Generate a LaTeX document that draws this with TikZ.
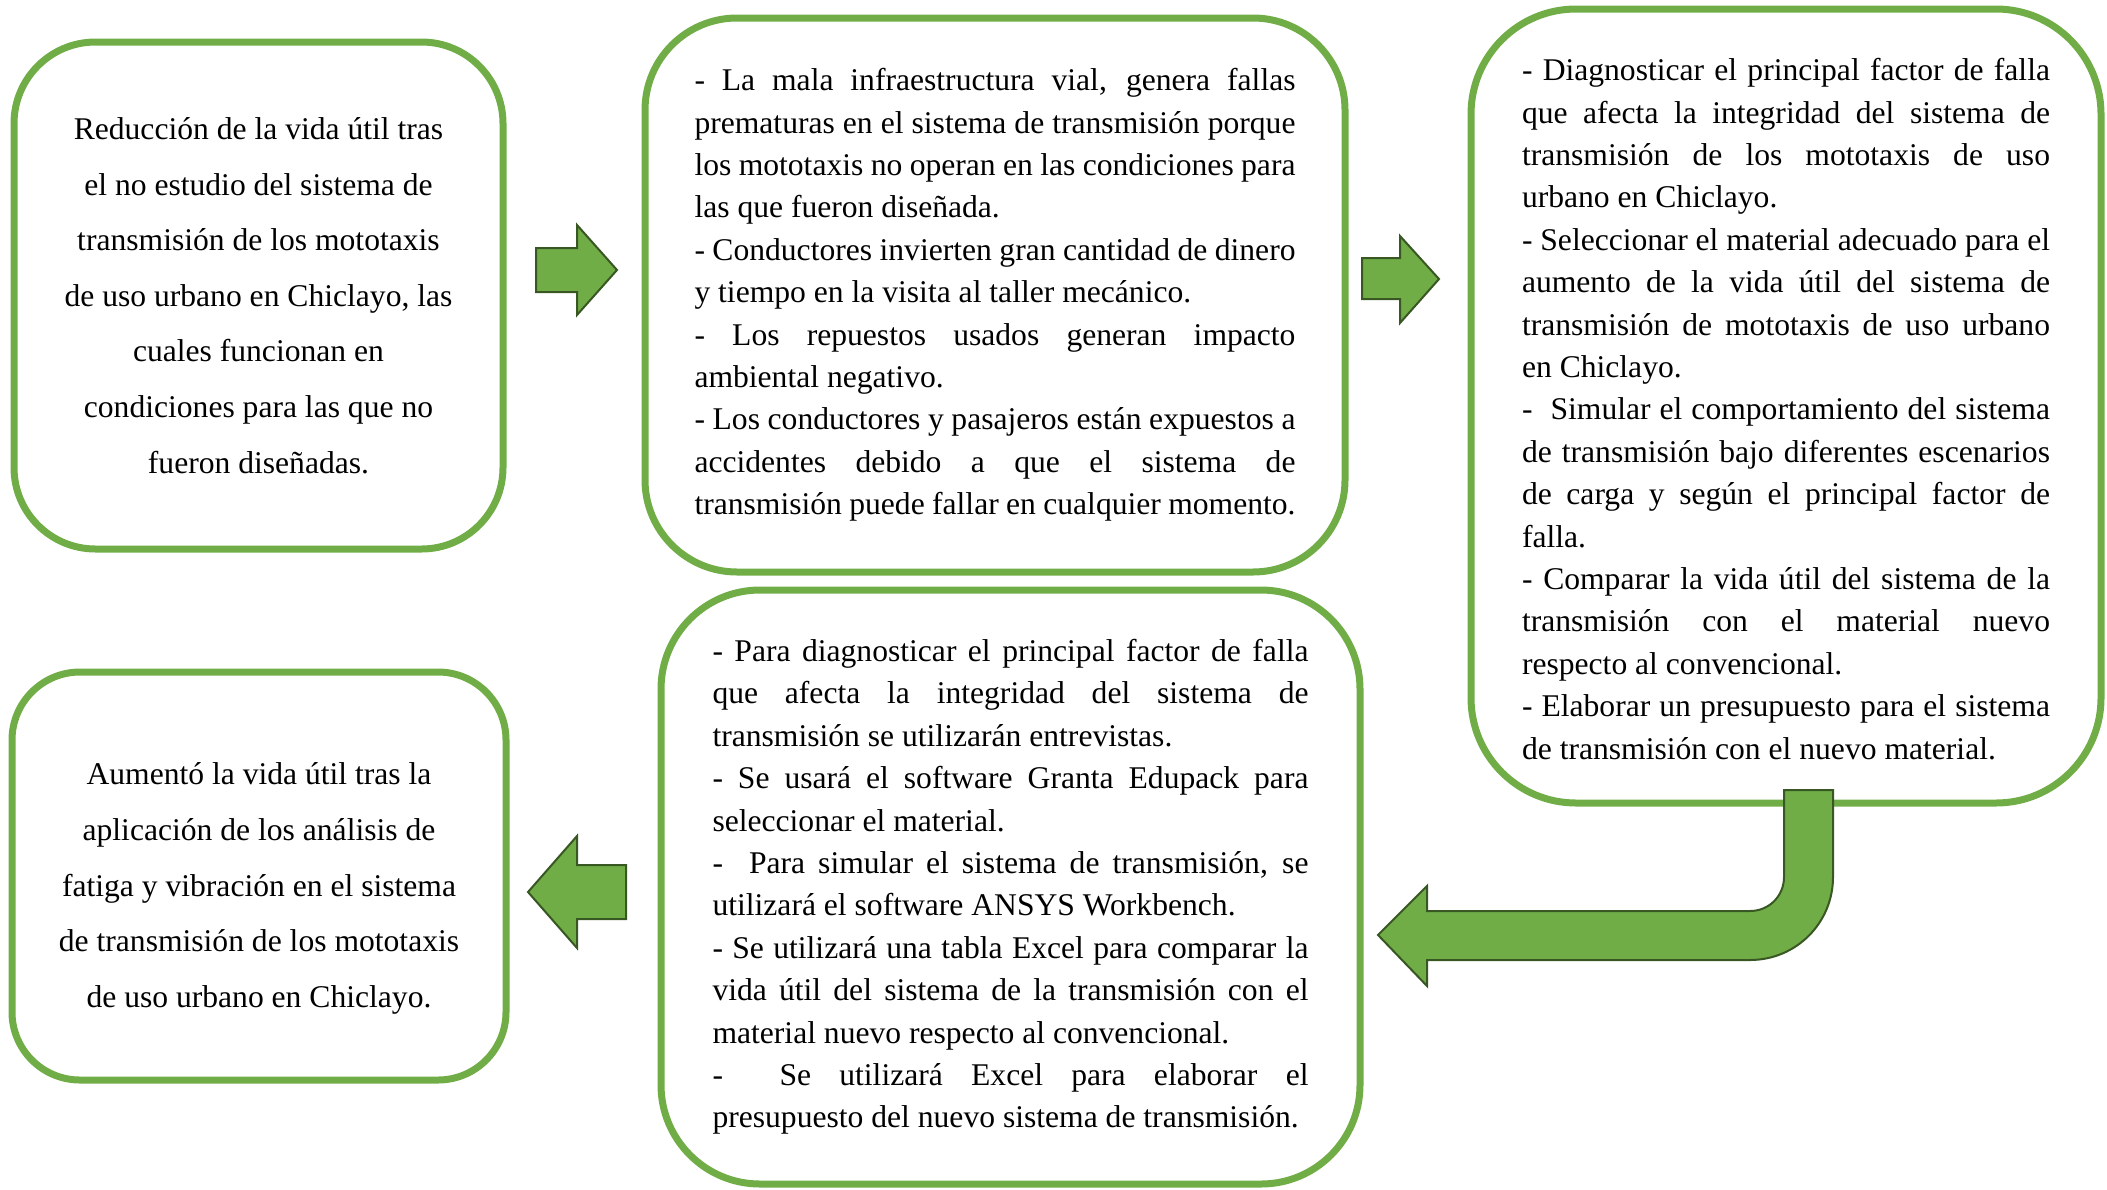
\documentclass[tikz,border=0pt]{standalone}
\usepackage{fontspec}
\setmainfont{Liberation Serif}
\hyphenpenalty=10000
\exhyphenpenalty=10000
\tolerance=10000
\definecolor{boxColor}{HTML}{70AD47}
\definecolor{edgeColor}{HTML}{385723}
\tikzset{box/.style={draw=boxColor, line width=3.5pt, inner sep=0pt}}
\tikzset{bigtext/.style={align=center, font=\fontsize{15.8}{27.8}\selectfont}}
\tikzset{listtext/.style={align=justify, font=\fontsize{15.8}{21.2}\selectfont}}
\tikzset{blockarrow/.style={fill=boxColor, draw=edgeColor, line width=1pt, line join=miter}}
\begin{document}
\begin{tikzpicture}[x=0.5pt, y=-0.5pt]
\useasboundingbox (0,0) rectangle (2107,1189);
\node[box, bigtext, rounded corners=40.75pt, minimum width=244.5pt, minimum height=253.5pt] (problem) at (258.5,295.5) {Reducción de la vida útil tras\\ el no estudio del sistema de\\ transmisión de los mototaxis\\ de uso urbano en Chiclayo, las\\ cuales funcionan en\\ condiciones para las que no\\ fueron diseñadas.};
\node[box, listtext, text width=300.5pt, rounded corners=46pt, minimum width=350pt, minimum height=277pt] (causes) at (995,295) {- La mala infraestructura vial, genera fallas \linebreak prematuras en el sistema de transmisión porque \linebreak los mototaxis no operan en las condiciones para \linebreak las que fueron diseñada.\par - Conductores invierten gran cantidad de dinero \linebreak y tiempo en la visita al taller mecánico.\par - Los repuestos usados generan impacto \linebreak ambiental negativo.\par - Los conductores y pasajeros están expuestos a \linebreak accidentes debido a que el sistema de \linebreak transmisión puede fallar en cualquier momento.};
\node[box, listtext, text width=264pt, rounded corners=52.5pt, minimum width=315pt, minimum height=397pt] (goals) at (1786,406) {\rule{0pt}{14.2pt}- Diagnosticar el principal factor de falla \linebreak que afecta la integridad del sistema de \linebreak transmisión de los mototaxis de uso \linebreak urbano en Chiclayo.\par - Seleccionar el material adecuado para el \linebreak aumento de la vida útil del sistema de \linebreak transmisión de mototaxis de uso urbano \linebreak en Chiclayo.\par -\ \ Simular el comportamiento del sistema \linebreak de transmisión bajo diferentes escenarios \linebreak de carga y según el principal factor de \linebreak falla.\par - Comparar la vida útil del sistema de la \linebreak transmisión con el material nuevo \linebreak respecto al convencional.\par - Elaborar un presupuesto para el sistema \linebreak de transmisión con el nuevo material.};
\node[box, listtext, text width=298pt, rounded corners=49.5pt, minimum width=349.5pt, minimum height=297pt] (methods) at (1010.5,887) {- Para diagnosticar el principal factor de falla \linebreak que afecta la integridad del sistema de \linebreak transmisión se utilizarán entrevistas.\par - Se usará el software Granta Edupack para \linebreak seleccionar el material.\par -\ \ Para simular el sistema de transmisión, se \linebreak utilizará el software ANSYS Workbench.\par - Se utilizará una tabla Excel para comparar la \linebreak vida útil del sistema de la transmisión con el \linebreak material nuevo respecto al convencional.\par -\ \ Se utilizará Excel para elaborar el \linebreak presupuesto del nuevo sistema de transmisión.};
\node[box, bigtext, rounded corners=34pt, minimum width=247pt, minimum height=204pt] (result) at (259,876) {\rule{0pt}{23.5pt}Aumentó la vida útil tras la\\ aplicación de los análisis de\\ fatiga y vibración en el sistema\\ de transmisión de los mototaxis\\ de uso urbano en Chiclayo.};
% block arrows
\draw[blockarrow] (536,248) -- (577,248) -- (577,225) -- (617,270) -- (577,315) -- (577,292) -- (536,292) -- cycle;
\draw[blockarrow] (1362,258) -- (1400,258) -- (1400,236) -- (1439,279) -- (1400,323) -- (1400,299) -- (1362,299) -- cycle;
\draw[blockarrow] (1784,790) -- (1833,790) -- (1833,877) .. controls (1833,923) and (1796,960) .. (1750,960) -- (1427,960) -- (1427,986) -- (1378,935) -- (1427,886) -- (1427,911) -- (1750,911) .. controls (1769,911) and (1784,896) .. (1784,877) -- cycle;
\draw[blockarrow] (626,865) -- (577,865) -- (577,836) -- (528,892) -- (577,948) -- (577,919) -- (626,919) -- cycle;
\end{tikzpicture}
\end{document}
